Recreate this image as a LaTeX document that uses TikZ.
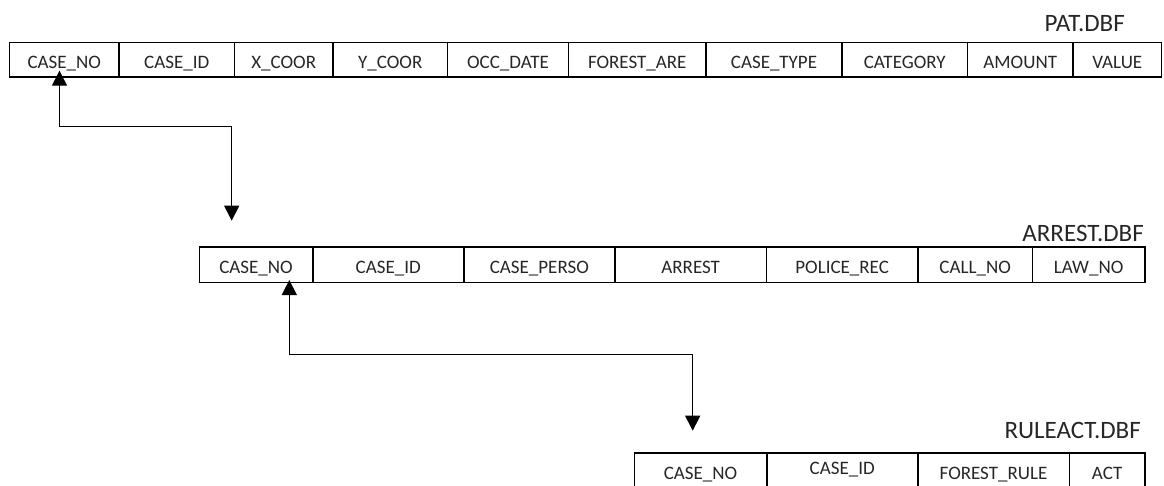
\documentclass[tikz,border=0pt]{standalone}
\usepackage{fontspec}
\setmainfont{Carlito}
\usetikzlibrary{arrows.meta}

\tikzset{
  cell/.style={draw, line width=1.6pt, inner sep=0pt, text=black!85,
    text height=17.6pt, font=\fontsize{19}{22}\selectfont},
  dbname/.style={anchor=base east, inner sep=0pt, text=black!85,
    font=\fontsize{25}{30}\selectfont},
  link/.style={line width=1.3pt,
    {Triangle[length=15pt,width=15pt]}-{Triangle[length=15pt,width=15pt]}}
}

\begin{document}
\begin{tikzpicture}[x=1pt, y=-1pt]
  \useasboundingbox (0,0) rectangle (1164,486);
  \clip (0,0) rectangle (1164,486);
  % PAT.DBF
  \node[dbname] (patlbl) at (1125, 31.7) {PAT.DBF};
  \foreach \l/\r/\t/\n in {9.5/119/CASE\_NO/pno, 119/234.5/CASE\_ID/pid,
      234.5/333/X\_COOR/px, 333/447.5/Y\_COOR/py, 447.5/568.5/OCC\_DATE/pdate,
      568.5/706/FOREST\_ARE/parea, 706/842/CASE\_TYPE/ptype,
      842/967.5/CATEGORY/pcat, 967.5/1073/AMOUNT/pamount, 1073/1161.5/VALUE/pvalue}
    \node[cell, minimum width={(\r-\l)*1pt}, minimum height=34.5pt, text depth=0pt]
      (\n) at ({(\l+\r)/2}, 59.7) {\t};
  % ARREST.DBF
  \node[dbname] (arrestlbl) at (1144, 241.7) {ARREST.DBF};
  \foreach \l/\r/\t/\n in {199.3/312.7/CASE\_NO/ano, 312.7/463.7/CASE\_ID/aid,
      463.7/615/CASE\_PERSO/aperson, 615/766.3/ARREST/aarrest,
      766.3/918/POLICE\_REC/apolice, 918/1032.3/CALL\_NO/acall,
      1032.3/1145/LAW\_NO/alaw}
    \node[cell, minimum width={(\r-\l)*1pt}, minimum height=35.4pt, text depth=0pt]
      (\n) at ({(\l+\r)/2}, 265) {\t};
  % RULEACT.DBF (bottom edge falls off the page)
  \node[dbname] (rulelbl) at (1141, 438) {RULEACT.DBF};
  \foreach \l/\r/\t/\n/\d in {634.3/766.7/CASE\_NO/rno/0, 766.7/917.7/CASE\_ID/rid/10,
      917.7/1069.3/FOREST\_RULE/rrule/0, 1069.3/1145/ACT/ract/0}
    \node[cell, minimum width={(\r-\l)*1pt}, minimum height=35pt, text depth=\d pt]
      (\n) at ({(\l+\r)/2}, 470.2) {\t};

  % links on CASE_NO
  \coordinate (a1) at (59.5, 70.7);
  \coordinate (k1) at (59.5, 126.7);
  \coordinate (b1) at (231.7, 220.7);
  \draw[link] (a1) -- (k1) -| (b1);
  \coordinate (a2) at (289.3, 280);
  \coordinate (k2) at (289.3, 354.3);
  \coordinate (b2) at (692.7, 430.7);
  \draw[link] (a2) -- (k2) -| (b2);
\end{tikzpicture}
\end{document}
